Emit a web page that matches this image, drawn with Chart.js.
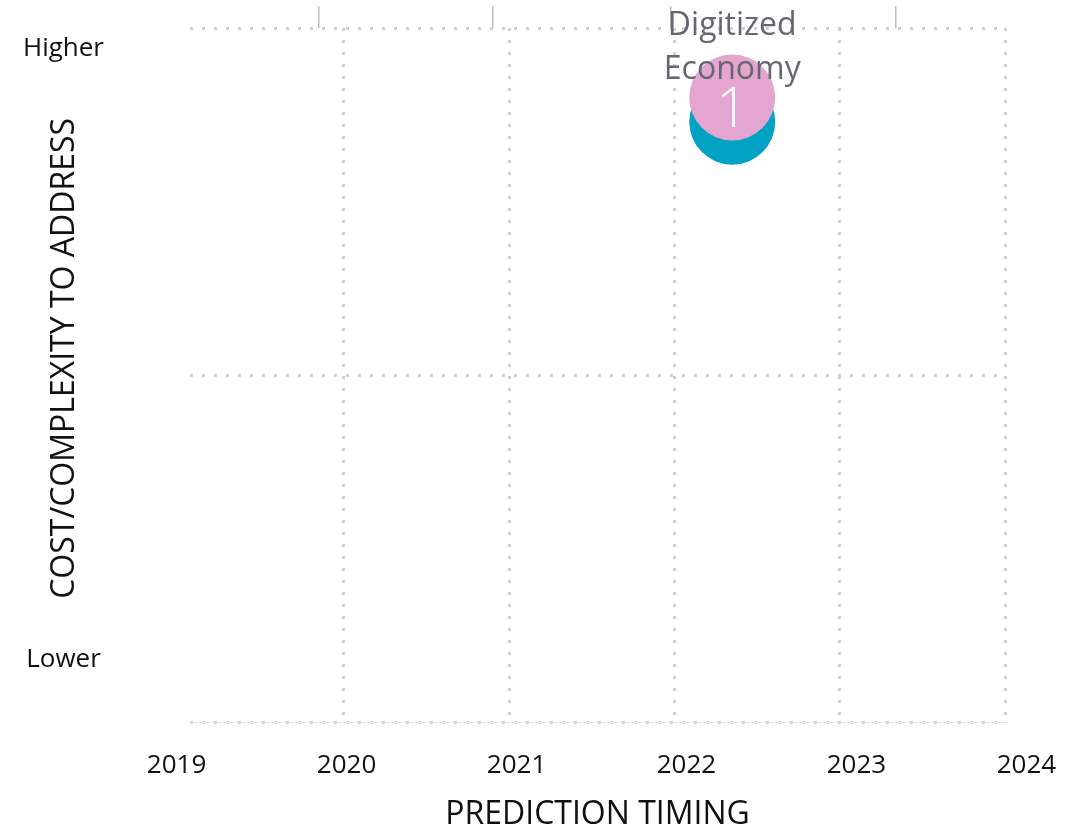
<!DOCTYPE html>
<html>
<head>
<meta charset="utf-8">
<script src="https://cdn.jsdelivr.net/npm/chart.js@4"></script>
<style>
  html, body { margin: 0; padding: 0; background: #fff; }
  #wrap { width: 1079px; height: 830px; }
</style>
</head>
<body>
<div id="wrap"><canvas id="predictionChart" width="1079" height="830"></canvas></div>
<script>
// Dane wykresu
var predictionNames = ['Digitized Economy'];
var predictionNumbers = ['1'];
var predictionTiming = [2022.35];
var costTop = [1.8];      // różowy bąbel
var costBase = [1.73];    // turkusowy bąbel pod spodem
var bubbleRadius = [43];

var gridYears = [2020, 2021, 2022, 2023, 2024];
var yearLabels = ['2019', '2020', '2021', '2022', '2023', '2024'];
var yearLabelValues = [2019, 2020, 2021, 2022, 2023, 2024];
var costLabels = ['Lower', 'Higher'];
var costLabelValues = [0.18, 1.94];
var topMarkValues = [2019.85, 2020.90, 2021.98, 2023.34];

var FONT = '"Open Sans", "Noto Sans", sans-serif';
var GRID_COLOR = '#d0d0d0';
var GRID_DASH = [3, 9];

function fixSize(width, height) {
    return function (scale) {
        if (width !== null) scale.width = width;
        if (height !== null) scale.height = height;
        scale.paddingLeft = 0;
        scale.paddingRight = 0;
        scale.paddingTop = 0;
        scale.paddingBottom = 0;
    };
}

function setTicks(values) {
    return function (scale) {
        scale.ticks = values.map(function (v) { return { value: v }; });
    };
}

// Podpisy bąbli
var bubbleLabels = {
    id: 'bubbleLabels',
    afterDatasetsDraw: function (chart) {
        var ctx = chart.ctx;
        var meta = chart.getDatasetMeta(0);
        meta.data.forEach(function (el, i) {
            ctx.save();
            ctx.textAlign = 'center';
            ctx.textBaseline = 'middle';
            ctx.fillStyle = '#ffffff';
            ctx.font = '300 56px ' + FONT;
            ctx.fillText(predictionNumbers[i], el.x, el.y + 14);
            ctx.fillStyle = '#66666e';
            ctx.font = '32px ' + FONT;
            var words = predictionNames[i].split(' ');
            ctx.fillText(words[0], el.x, el.y - 72);
            ctx.fillText(words.slice(1).join(' '), el.x, el.y - 28);
            ctx.restore();
        });
    }
};

var ctx = document.getElementById('predictionChart').getContext('2d');
var chart = new Chart(ctx, {
    type: 'bubble',
    data: {
        datasets: [{
            label: 'top',
            data: predictionTiming.map(function (x, i) { return { x: x, y: costTop[i], r: bubbleRadius[i] }; }),
            backgroundColor: '#e4a6d1',
            borderWidth: 0,
            xAxisID: 'x',
            yAxisID: 'y'
        }, {
            label: 'base',
            data: predictionTiming.map(function (x, i) { return { x: x, y: costBase[i], r: bubbleRadius[i] }; }),
            backgroundColor: '#00a3c4',
            borderWidth: 0,
            xAxisID: 'x',
            yAxisID: 'y'
        }]
    },
    options: {
        responsive: false,
        animation: false,
        layout: { autoPadding: false, padding: { left: 0, right: 74, top: 0, bottom: 0 } },
        plugins: { legend: { display: false }, tooltip: { enabled: false } },
        scales: {
            x: {
                type: 'linear', position: 'bottom', min: 2019.07, max: 2024,
                afterBuildTicks: setTicks(gridYears),
                afterFit: fixSize(null, 0),
                ticks: { display: false },
                grid: { color: GRID_COLOR, lineWidth: 3, drawTicks: false },
                border: { display: true, color: '#e2e2e2', width: 1, dash: GRID_DASH }
            },
            xl: {
                type: 'linear', position: 'bottom', min: 2019.079, max: 2023.874,
                afterBuildTicks: setTicks(yearLabelValues),
                afterFit: fixSize(null, 108),
                grid: { display: false, drawTicks: false },
                border: { display: false },
                ticks: {
                    autoSkip: false, padding: 28, color: '#111',
                    font: { family: FONT, size: 26 },
                    callback: function (v, i) { return yearLabels[i]; }
                },
                title: {
                    display: true, text: 'PREDICTION TIMING', color: '#111',
                    font: { family: FONT, size: 32 }, padding: { top: 0, bottom: -4 }
                }
            },
            xt: {
                type: 'linear', position: 'top', min: 2019.07, max: 2024,
                afterBuildTicks: setTicks(topMarkValues),
                afterFit: fixSize(null, 28),
                ticks: { display: false },
                grid: { drawOnChartArea: false, drawTicks: true, tickLength: 22, color: '#bdbdbd', lineWidth: 1.5 },
                border: { display: false }
            },
            y: {
                type: 'linear', position: 'left', min: 0, max: 2,
                afterFit: fixSize(0, null),
                ticks: { display: false, stepSize: 1 },
                grid: { color: GRID_COLOR, lineWidth: 3, drawTicks: false },
                border: { display: false, dash: GRID_DASH }
            },
            yl: {
                type: 'linear', position: 'left', min: 0, max: 2,
                afterBuildTicks: setTicks(costLabelValues),
                afterFit: fixSize(190, null),
                grid: { display: false, drawTicks: false },
                border: { display: false },
                ticks: {
                    autoSkip: false, padding: 86, crossAlign: 'center', color: '#111',
                    font: { family: FONT, size: 26 },
                    callback: function (v, i) { return costLabels[i]; }
                },
                title: {
                    display: true, text: '    COST/COMPLEXITY TO ADDRESS', color: '#111',
                    font: { family: FONT, size: 32 }, padding: { top: 46, bottom: 0 }
                }
            }
        }
    },
    plugins: [bubbleLabels]
});
</script>
</body>
</html>
